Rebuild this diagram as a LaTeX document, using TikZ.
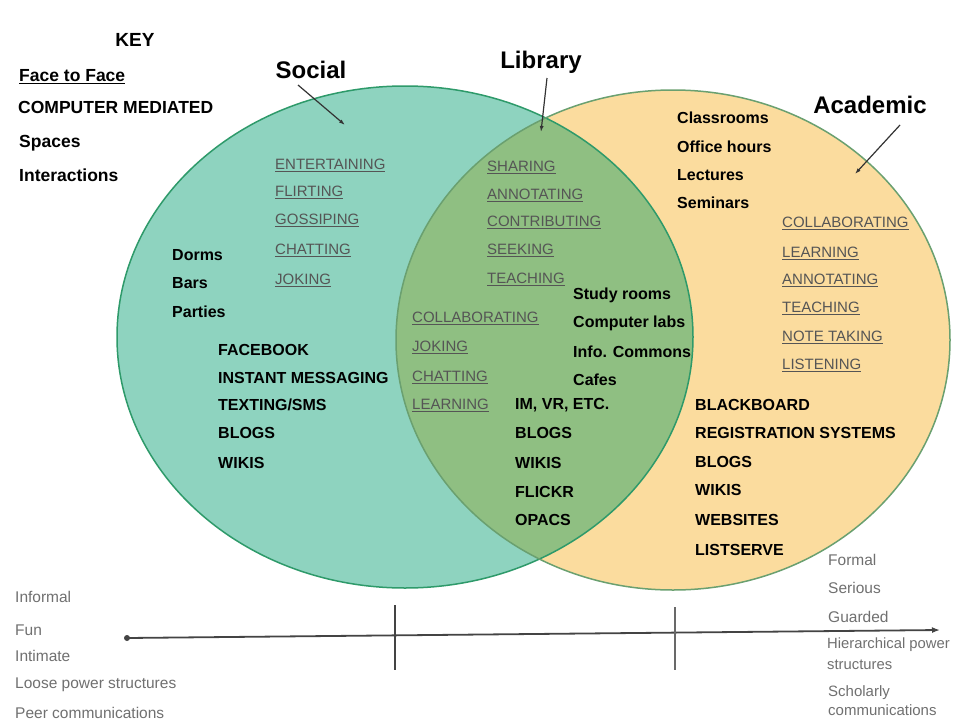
\documentclass[tikz,border=0pt]{standalone}
\usepackage{fontspec}
\setmainfont{Liberation Sans}
\usetikzlibrary{arrows.meta}
\definecolor{socfill}{HTML}{8ED3BF}
\definecolor{acafill}{HTML}{FBDC9E}
\definecolor{lensfill}{HTML}{8FBF82}
\definecolor{edgec}{HTML}{2E9A6A}
\definecolor{acaedge}{HTML}{6AA070}
\definecolor{iagray}{HTML}{555555}
\definecolor{lightg}{HTML}{707070}
\definecolor{axisc}{HTML}{444444}
\tikzset{
  bx/.style={anchor=west, inner sep=0pt, font=\bfseries\fontsize{16}{18}\selectfont},
  ia/.style={anchor=west, inner sep=0pt, text=iagray, font=\fontsize{15}{17}\selectfont},
  keyt/.style={anchor=west, inner sep=0pt, font=\bfseries\fontsize{17.5}{20}\selectfont},
  ttl/.style={inner sep=0pt, font=\bfseries\fontsize{24}{26}\selectfont},
  endlabel/.style={anchor=west, inner sep=0pt, text=lightg, font=\fontsize{15.5}{17}\selectfont},
  pointer/.style={draw=black!80, line width=1.2pt, -{Latex[length=6pt,width=4pt]}},
}
\begin{document}
\begin{tikzpicture}[x=1pt,y=-1pt]
\useasboundingbox (0,0) rectangle (954,723);
\fill[white] (0,0) rectangle (954,723);
% ellipses
\fill[socfill] (405,337) ellipse [x radius=288pt, y radius=251pt];
\fill[acafill] (673,340) ellipse [x radius=277pt, y radius=250pt];
\begin{scope}
  \clip (405,337) ellipse [x radius=288pt, y radius=251pt];
  \fill[lensfill] (673,340) ellipse [x radius=277pt, y radius=250pt];
\end{scope}
\draw[edgec, line width=1.5pt] (405,337) ellipse [x radius=288pt, y radius=251pt];
\draw[acaedge, line width=1.5pt] (673,340) ellipse [x radius=277pt, y radius=250pt];

% key
\node[inner sep=0pt, font=\bfseries\fontsize{19}{21}\selectfont] (key) at (135,40) {KEY};
\node[keyt] (k1) at (19,77) {\underline{Face to Face}};
\node[keyt] (k2) at (18,107) {COMPUTER MEDIATED};
\node[keyt] (k3) at (19,143) {Spaces};
\node[keyt] (k4) at (19,175) {Interactions};

% titles
\node[ttl] (socT) at (311,70) {Social};
\node[ttl] (libT) at (541,62) {Library};
\node[ttl] (acaT) at (870,105) {Academic};
\coordinate (socA) at (298,85);
\coordinate (socB) at (345,125);
\coordinate (libA) at (547,78);
\coordinate (libB) at (541,132);
\coordinate (acaA) at (900,125);
\coordinate (acaB) at (855,174);
\draw[pointer] (socA) -- (socB);
\draw[pointer] (libA) -- (libB);
\draw[pointer] (acaA) -- (acaB);

% social interactions
\node[ia] (s1) at (275,165) {\underline{ENTERTAINING}};
\node[ia] (s2) at (275,192) {\underline{FLIRTING}};
\node[ia] (s3) at (275,220) {\underline{GOSSIPING}};
\node[ia] (s4) at (275,250) {\underline{CHATTING}};
\node[ia] (s5) at (275,280) {\underline{JOKING}};
% social spaces
\node[bx] (d1) at (172,255) {Dorms};
\node[bx] (d2) at (172,283) {Bars};
\node[bx] (d3) at (172,312) {Parties};
% social CM
\node[bx] (c1) at (218,350) {FACEBOOK};
\node[bx] (c2) at (218,378) {INSTANT MESSAGING};
\node[bx] (c3) at (218,405) {TEXTING/SMS};
\node[bx] (c4) at (218,433) {BLOGS};
\node[bx] (c5) at (218,463) {WIKIS};

% library interactions
\node[ia] (l1) at (487,167) {\underline{SHARING}};
\node[ia] (l2) at (487,195) {\underline{ANNOTATING}};
\node[ia] (l3) at (487,222) {\underline{CONTRIBUTING}};
\node[ia] (l4) at (487,250) {\underline{SEEKING}};
\node[ia] (l5) at (487,279) {\underline{TEACHING}};
\node[ia] (l6) at (412,318) {\underline{COLLABORATING}};
\node[ia] (l7) at (412,347) {\underline{JOKING}};
\node[ia] (l8) at (412,377) {\underline{CHATTING}};
\node[ia] (l9) at (412,405) {\underline{LEARNING}};
% library spaces
\node[bx] (ls1) at (573,295) {Study rooms};
\node[bx] (ls2) at (573,323) {Computer labs};
\node[bx] (ls3) at (573,352) {Info. Commons};
\node[bx] (ls4) at (573,380) {Cafes};
% library CM
\node[bx] (lc1) at (515,405) {IM, VR, ETC.};
\node[bx] (lc2) at (515,433) {BLOGS};
\node[bx] (lc3) at (515,463) {WIKIS};
\node[bx] (lc4) at (515,492) {FLICKR};
\node[bx] (lc5) at (515,520) {OPACS};

% academic spaces
\node[bx] (as1) at (677,118) {Classrooms};
\node[bx] (as2) at (677,147) {Office hours};
\node[bx] (as3) at (677,175) {Lectures};
\node[bx] (as4) at (677,203) {Seminars};
% academic interactions
\node[ia] (a1) at (782,223) {\underline{COLLABORATING}};
\node[ia] (a2) at (782,253) {\underline{LEARNING}};
\node[ia] (a3) at (782,280) {\underline{ANNOTATING}};
\node[ia] (a4) at (782,308) {\underline{TEACHING}};
\node[ia] (a5) at (782,337) {\underline{NOTE TAKING}};
\node[ia] (a6) at (782,365) {\underline{LISTENING}};
% academic CM
\node[bx] (ac1) at (695,405) {BLACKBOARD};
\node[bx] (ac2) at (695,433) {REGISTRATION SYSTEMS};
\node[bx] (ac3) at (695,462) {BLOGS};
\node[bx] (ac4) at (695,490) {WIKIS};
\node[bx] (ac5) at (695,520) {WEBSITES};
\node[bx] (ac6) at (695,550) {LISTSERVE};

% axis
\coordinate (axL) at (127,638);
\coordinate (axR) at (940,630);
\draw[axisc, line width=1.8pt, -{Latex[length=8pt,width=6pt]}] (axL) -- (axR);
\fill[axisc] (axL) circle (3pt);
\coordinate (t1a) at (395,605);
\coordinate (t1b) at (395,670);
\coordinate (t2a) at (675,607);
\coordinate (t2b) at (675,670);
\draw[axisc, line width=2pt] (t1a) -- (t1b);
\draw[axisc!80, line width=2pt] (t2a) -- (t2b);

% end labels left
\node[endlabel] (x1) at (15,597) {Informal};
\node[endlabel] (x2) at (15,630) {Fun};
\node[endlabel] (x3) at (15,656) {Intimate};
\node[endlabel] (x4) at (15,685) {Loose power structures};
\node[endlabel] (x5) at (15,713) {Peer communications};
% end labels right
\node[endlabel] (y1) at (828,560) {Formal};
\node[endlabel] (y2) at (828,588) {Serious};
\node[endlabel] (y3) at (828,617) {Guarded};
\node[endlabel, align=left, font=\fontsize{14.8}{21}\selectfont] (y4) at (827,654) {Hierarchical power\\structures};
\node[endlabel, align=left, font=\fontsize{15}{19}\selectfont] (y5) at (828,701) {Scholarly\\communications};
\end{tikzpicture}
\end{document}
